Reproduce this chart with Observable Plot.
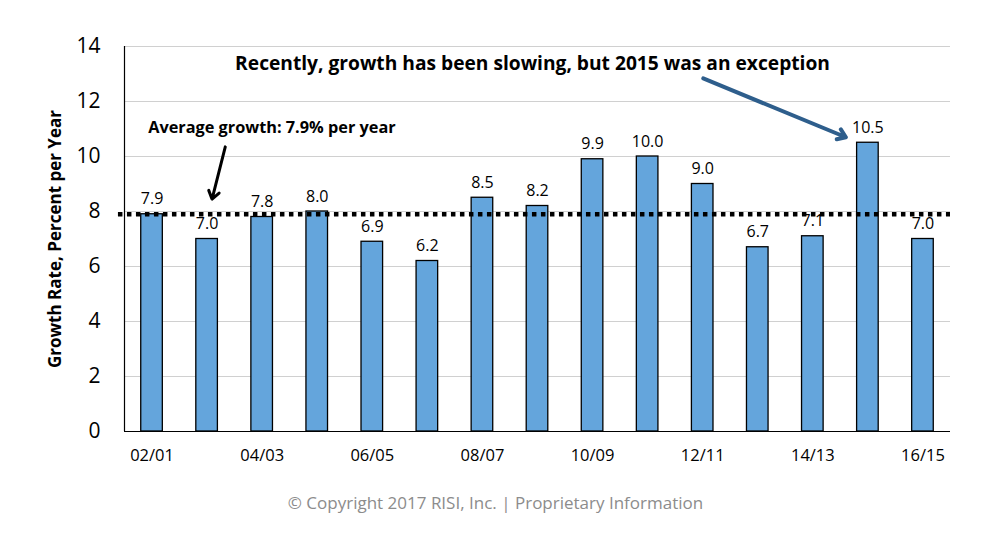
<!DOCTYPE html>
<html>
<head>
<meta charset="utf-8">
<script src="https://cdn.jsdelivr.net/npm/d3@7"></script>
<script src="https://cdn.jsdelivr.net/npm/@observablehq/plot@0.6"></script>
<style>
  html, body { margin: 0; padding: 0; background: #fff; }
  #chart { width: 991px; }
  #caption { width: 991px; text-align: center; font-family: "Open Sans", Lato, sans-serif; font-size: 17px; color: #8c8c8c; margin-top: 7px; }
</style>
</head>
<body>
<div id="chart"></div>
<div id="caption">© Copyright 2017 RISI, Inc. | Proprietary Information</div>
<script>
const categories = ["02/01","03/02","04/03","05/04","06/05","07/06","08/07","09/08","10/09","11/10","12/11","13/12","14/13","15/14","16/15"];
const growth = [7.9, 7.0, 7.8, 8.0, 6.9, 6.2, 8.5, 8.2, 9.9, 10.0, 9.0, 6.7, 7.1, 10.5, 7.0];
const averageGrowth = 7.9;
const yTicks = [0, 2, 4, 6, 8, 10, 12, 14];
const labeledTicks = [0, 2, 4, 6, 8, 10, 12, 14]; // indices of categories shown on axis
const annotations = [
  {text: "Average growth: 7.9% per year", x: -0.07, y: 11.05},
  {text: "Recently, growth has been slowing, but 2015 was an exception", x: 6.91, y: 13.38}
];
const arrows = [
  {x1: 1.33, y1: 10.35, x2: 1.09, y2: 8.45, color: "#000000", w: 3},
  {x1: 10.01, y1: 12.84, x2: 12.6, y2: 10.7, color: "#2e5e8c", w: 4}
];

const data = categories.map((c, i) => ({i, cat: c, v: growth[i]}));
const half = 0.196;
const font = "'Open Sans', Lato, sans-serif";

const chart = Plot.plot({
  width: 991,
  height: 484,
  marginLeft: 124,
  marginRight: 41,
  marginTop: 46,
  marginBottom: 53,
  style: {fontFamily: font, background: "#fff", color: "#000"},
  x: {type: "linear", domain: [-0.5, 14.5]},
  y: {domain: [0, 14]},
  marks: [
    Plot.ruleY(yTicks.filter(d => d > 0), {stroke: "#d0d0d0", strokeWidth: 1}),
    Plot.rectY(data, {x1: d => d.i - half, x2: d => d.i + half, y1: 0, y2: "v", fill: "#64a5dc", stroke: "#000", strokeWidth: 1.3}),
    Plot.ruleY([averageGrowth], {x1: -0.61, x2: 14.5, stroke: "#000", strokeWidth: 4.5, strokeDasharray: "4.5,4.5"}),
    Plot.text(data, {x: "i", y: "v", text: d => d.v.toFixed(1), dy: -15, fontSize: 16, fill: "#000"}),
    Plot.ruleX([-0.5], {y1: 0, y2: 14, stroke: "#000", strokeWidth: 1.2}),
    Plot.ruleY([0], {x1: -0.5, x2: 14.5, stroke: "#000", strokeWidth: 1.2}),
    Plot.axisY({ticks: yTicks, tickSize: 0, tickPadding: 24, fontSize: 21, label: "Growth Rate, Percent per Year", labelAnchor: "center", labelArrow: "none", labelOffset: 76}),
    Plot.axisX({ticks: labeledTicks, tickSize: 0, tickPadding: 18, fontSize: 16.5, tickFormat: i => categories[i], label: null}),
    Plot.arrow(arrows, {x1: "x1", y1: "y1", x2: "x2", y2: "y2", stroke: "color", strokeWidth: "w", headLength: 14, headAngle: 70, bend: 0}),
    Plot.text(annotations.slice(0,1), {x: "x", y: "y", text: "text", textAnchor: "start", fontSize: 16.3, fontWeight: "bold", fill: "#000"}),
    Plot.text(annotations.slice(1), {x: "x", y: "y", text: "text", textAnchor: "middle", fontSize: 19.2, fontWeight: "bold", fill: "#000"})
  ]
});
chart.querySelectorAll("text").forEach(t => {
  if (t.textContent === "Growth Rate, Percent per Year") { t.setAttribute("font-weight", "bold"); t.setAttribute("font-size", "17"); }
});
document.getElementById("chart").appendChild(chart);
</script>
</body>
</html>
